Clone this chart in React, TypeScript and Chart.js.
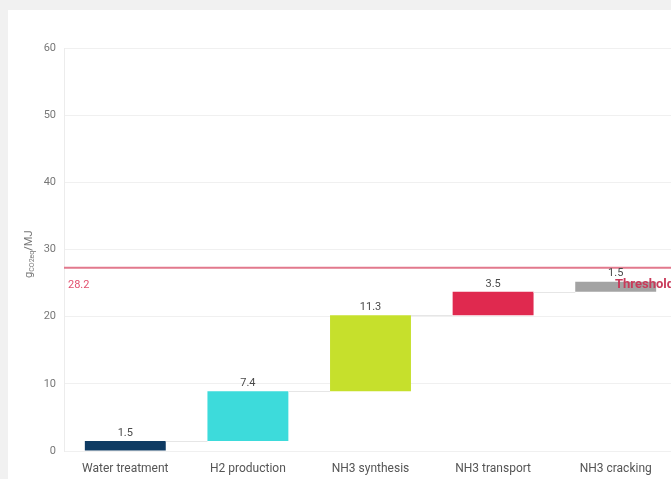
import React, { useEffect, useRef } from "react";
import { Chart, registerables } from "chart.js";

Chart.register(...registerables);

const categories = ["Water treatment", "H2 production", "NH3 synthesis", "NH3 transport", "NH3 cracking"];
const stepValues = [1.5, 7.4, 11.3, 3.5, 1.5];
const barStarts = [0, 1.5, 8.9, 20.2, 23.7];
const barEnds = [1.5, 8.9, 20.2, 23.7, 25.2];
const barColors = ["#0f3b63", "#3ddbdb", "#c6e02c", "#e0294f", "#a3a3a3"];
const yTicks = [0, 10, 20, 30, 40, 50, 60];
const thresholdValue = 27.3;
const thresholdValueLabel = "28.2";
const thresholdName = "Threshold";

const FONT = "Roboto, 'DejaVu Sans', sans-serif";

export default function App() {
  const ref = useRef<HTMLCanvasElement | null>(null);

  useEffect(() => {
    if (!ref.current) return;

    const overlay = {
      id: "overlay",
      afterDatasetsDraw(chart: any) {
        const { ctx, chartArea, scales } = chart;
        const y = scales.y;
        const meta = chart.getDatasetMeta(0);
        ctx.save();
        // connectors
        ctx.strokeStyle = "#e6e6e6";
        ctx.lineWidth = 1;
        for (let i = 0; i < meta.data.length - 1; i++) {
          const a = meta.data[i] as any;
          const b = meta.data[i + 1] as any;
          const py = Math.round(y.getPixelForValue(barEnds[i])) + 0.5;
          ctx.beginPath();
          ctx.moveTo(a.x + a.width / 2, py);
          ctx.lineTo(b.x - b.width / 2, py);
          ctx.stroke();
        }
        // threshold line
        const ty = y.getPixelForValue(thresholdValue);
        ctx.strokeStyle = "#e2798d";
        ctx.lineWidth = 2;
        ctx.beginPath();
        ctx.moveTo(chartArea.left, ty);
        ctx.lineTo(chart.width, ty);
        ctx.stroke();
        // value labels
        ctx.fillStyle = "#4a4a4a";
        ctx.font = `11px ${FONT}`;
        ctx.textAlign = "center";
        ctx.textBaseline = "middle";
        meta.data.forEach((el: any, i: number) => {
          ctx.fillText(String(stepValues[i]), el.x, Math.min(el.y, el.base) - 8);
        });
        // threshold labels
        ctx.fillStyle = "#e2506e";
        ctx.textAlign = "left";
        ctx.font = `11px ${FONT}`;
        ctx.fillText(thresholdValueLabel, chartArea.left + 4, ty + 18);
        ctx.fillStyle = "#c93a5a";
        ctx.font = `bold 13px ${FONT}`;
        ctx.textAlign = "left";
        ctx.fillText(thresholdName, chartArea.right - 62, ty + 17);
        // y title
        ctx.save();
        ctx.translate(20, y.getPixelForValue(29.3));
        ctx.rotate(-Math.PI / 2);
        ctx.fillStyle = "#777";
        ctx.textAlign = "left";
        ctx.textBaseline = "alphabetic";
        const big = `11px ${FONT}`;
        const small = `7px ${FONT}`;
        ctx.font = big;
        const w1 = ctx.measureText("g").width;
        ctx.font = small;
        const w2 = ctx.measureText("CO2eq").width;
        ctx.font = big;
        const w3 = ctx.measureText("/MJ").width;
        const total = w1 + w2 + w3;
        let x = -total / 2;
        ctx.font = big;
        ctx.fillText("g", x, 4);
        x += w1;
        ctx.font = small;
        ctx.fillText("CO2eq", x, 6);
        x += w2;
        ctx.font = big;
        ctx.fillText("/MJ", x, 4);
        ctx.restore();
        ctx.restore();
      },
    };

    const chart = new Chart(ref.current, {
      type: "bar",
      data: {
        labels: categories,
        datasets: [
          {
            data: barStarts.map((s, i) => [s, barEnds[i]]) as any,
            backgroundColor: barColors,
            borderWidth: 0,
            categoryPercentage: 1,
            barPercentage: 0.66,
          },
        ],
      },
      options: {
        animation: false,
        responsive: false,
        maintainAspectRatio: false,
        layout: { padding: { top: 38, right: 21, left: 0, bottom: 0 } },
        plugins: { legend: { display: false }, tooltip: { enabled: false } },
        scales: {
          x: {
            grid: { display: false, drawTicks: false },
            border: { display: false },
            ticks: { color: "#555", font: { family: FONT, size: 12 }, padding: 11, maxRotation: 0 },
            afterFit: (s: any) => {
              s.height = 28;
            },
          },
          y: {
            min: 0,
            max: 60,
            afterBuildTicks: (s: any) => {
              s.ticks = yTicks.map((v) => ({ value: v }));
            },
            grid: { color: "#f0f0f0", drawTicks: false },
            border: { color: "#ececec" },
            ticks: { color: "#777", font: { family: FONT, size: 11 }, padding: 8 },
            afterFit: (s: any) => {
              s.width = 56;
            },
          },
        },
      },
      plugins: [overlay],
    });
    return () => chart.destroy();
  }, []);

  return (
    <div style={{ position: "absolute", inset: 0, background: "#f1f1f1", overflow: "hidden" }}>
      <div style={{ position: "absolute", left: 8, top: 10, width: 720, height: 500, background: "#fff" }}>
        <canvas ref={ref} width={690} height={469} style={{ position: "absolute", left: 0, top: 0, width: 690, height: 469 }} />
      </div>
    </div>
  );
}
